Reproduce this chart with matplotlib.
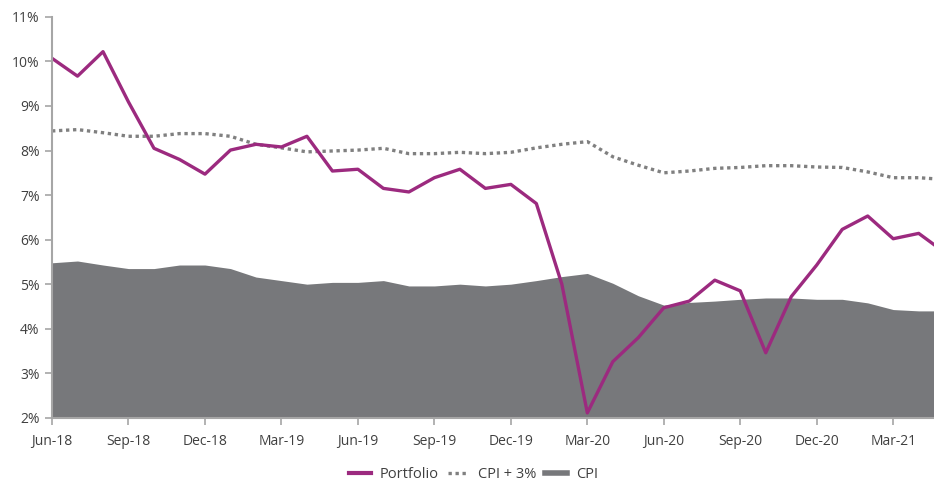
import matplotlib.pyplot as plt
import numpy as np
from matplotlib.lines import Line2D

# monthly data, Jun-18 .. May-21
months = ['Jun-18', 'Jul-18', 'Aug-18', 'Sep-18', 'Oct-18', 'Nov-18', 'Dec-18',
          'Jan-19', 'Feb-19', 'Mar-19', 'Apr-19', 'May-19', 'Jun-19', 'Jul-19',
          'Aug-19', 'Sep-19', 'Oct-19', 'Nov-19', 'Dec-19', 'Jan-20', 'Feb-20',
          'Mar-20', 'Apr-20', 'May-20', 'Jun-20', 'Jul-20', 'Aug-20', 'Sep-20',
          'Oct-20', 'Nov-20', 'Dec-20', 'Jan-21', 'Feb-21', 'Mar-21', 'Apr-21',
          'May-21']

portfolio = [10.07, 9.67, 10.22, 9.09, 8.05, 7.80, 7.47, 8.01, 8.14, 8.08,
             8.32, 7.54, 7.58, 7.15, 7.07, 7.39, 7.58, 7.15, 7.24, 6.81,
             5.00, 2.11, 3.26, 3.80, 4.47, 4.62, 5.09, 4.85, 3.46, 4.72,
             5.43, 6.23, 6.53, 6.02, 6.14, 5.72]

cpi_plus3 = [8.44, 8.47, 8.40, 8.32, 8.32, 8.38, 8.38, 8.32, 8.14, 8.06,
             7.97, 7.99, 8.01, 8.05, 7.93, 7.93, 7.96, 7.93, 7.96, 8.06,
             8.14, 8.20, 7.86, 7.67, 7.50, 7.54, 7.60, 7.62, 7.66, 7.66,
             7.63, 7.62, 7.52, 7.39, 7.39, 7.35]

cpi = [5.48, 5.52, 5.43, 5.35, 5.35, 5.43, 5.43, 5.35, 5.16, 5.08,
       5.00, 5.04, 5.04, 5.08, 4.96, 4.96, 5.00, 4.96, 5.00, 5.08,
       5.17, 5.24, 5.02, 4.74, 4.53, 4.59, 4.62, 4.66, 4.69, 4.69,
       4.66, 4.66, 4.58, 4.43, 4.40, 4.40]

purple = '#9c2a7f'
grey_fill = '#77787b'
grey_dot = '#808080'
axis_col = '#a6a6a6'
txt_col = '#404040'

plt.rcParams['font.family'] = ['Open Sans', 'DejaVu Sans']

x = np.arange(len(months))

fig = plt.figure(figsize=(9.34, 4.83), dpi=100)
ax = fig.add_axes([0.0557, 0.135, 0.9443, 0.830])

ax.fill_between(x, 0, cpi, color=grey_fill, lw=0, label='CPI')
ax.plot(x, cpi_plus3, color=grey_dot, lw=2.4, ls=(0, (1.0, 1.1)),
        dash_capstyle='butt', label='CPI + 3%')
ax.plot(x, portfolio, color=purple, lw=2.4, label='Portfolio')

ax.set_xlim(0, 34.6)
ax.set_ylim(2, 11)

ax.set_xticks(x[::3])
ax.set_xticklabels(months[::3])
ax.set_yticks(range(2, 12))
ax.set_yticklabels(['{}%'.format(v) for v in range(2, 12)])

for s in ['top', 'right']:
    ax.spines[s].set_visible(False)
for s in ['left', 'bottom']:
    ax.spines[s].set_color(axis_col)
    ax.spines[s].set_linewidth(1.5)

ax.tick_params(axis='both', colors=axis_col, labelcolor=txt_col,
               labelsize=10, length=5, width=1.2, direction='out')
ax.tick_params(axis='x', pad=7)
ax.tick_params(axis='y', pad=4)

# legend: order Portfolio, CPI + 3%, CPI
handles = [Line2D([], [], color=purple, lw=3),
           Line2D([], [], color=grey_dot, lw=2.4, ls=(0, (1.0, 1.1)), dash_capstyle='butt'),
           Line2D([], [], color=grey_fill, lw=4)]
fig.legend(handles, ['Portfolio', 'CPI + 3%', 'CPI'], loc='center',
           bbox_to_anchor=(0.507, 0.017), ncol=3, frameon=False,
           fontsize=10.5, handlelength=1.5, handletextpad=0.6,
           columnspacing=0.6, labelcolor=txt_col)

fig.savefig('out.png', dpi=100)
